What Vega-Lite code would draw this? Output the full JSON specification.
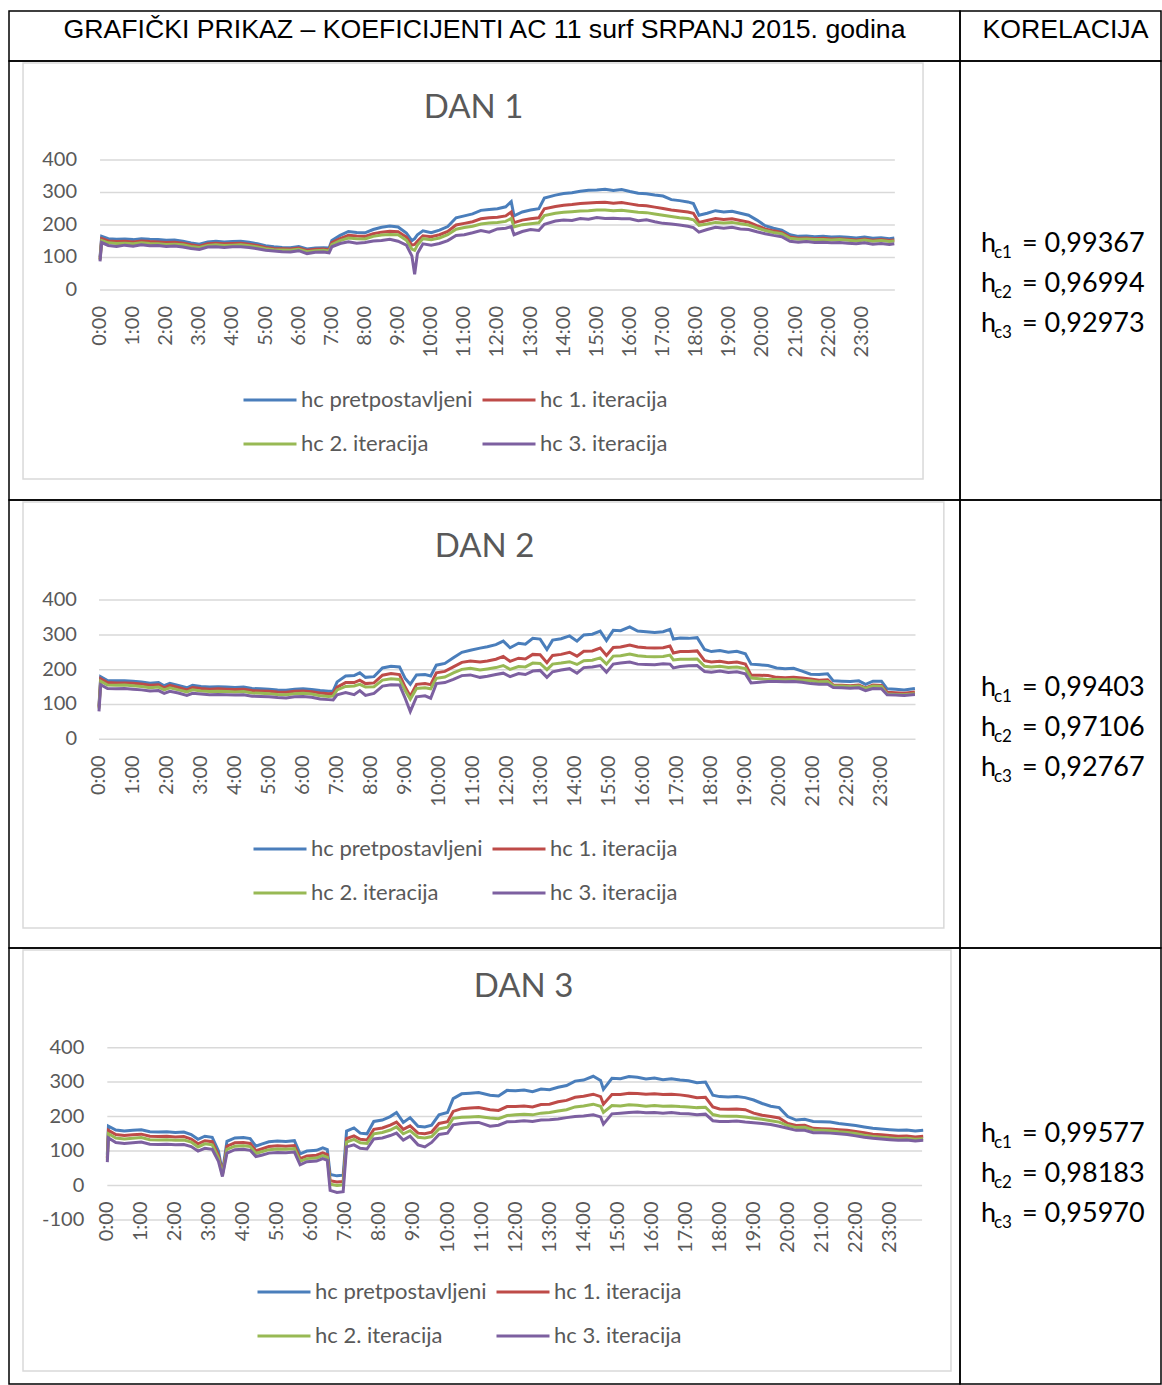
{
"$schema":"https://vega.github.io/schema/vega-lite/v6.json",
"background":"white",
"padding":{"left":8,"top":10,"right":0,"bottom":0},
"config":{"view":{"stroke":"black","strokeWidth":1.5}},
"datasets":{
"g5":[{"g":0},{"g":100},{"g":200},{"g":300},{"g":400}],
"g6":[{"g":-100},{"g":0},{"g":100},{"g":200},{"g":300},{"g":400}],
"hours":[{"m":0,"t":"0:00"},{"m":60,"t":"1:00"},{"m":120,"t":"2:00"},{"m":180,"t":"3:00"},{"m":240,"t":"4:00"},{"m":300,"t":"5:00"},{"m":360,"t":"6:00"},{"m":420,"t":"7:00"},{"m":480,"t":"8:00"},{"m":540,"t":"9:00"},{"m":600,"t":"10:00"},{"m":660,"t":"11:00"},{"m":720,"t":"12:00"},{"m":780,"t":"13:00"},{"m":840,"t":"14:00"},{"m":900,"t":"15:00"},{"m":960,"t":"16:00"},{"m":1020,"t":"17:00"},{"m":1080,"t":"18:00"},{"m":1140,"t":"19:00"},{"m":1200,"t":"20:00"},{"m":1260,"t":"21:00"},{"m":1320,"t":"22:00"},{"m":1380,"t":"23:00"}],
"hc":[
{"d":1,"m":0,"p":100,"a":95,"b":92,"c":88},{"d":1,"m":3,"p":165,"a":158,"b":152,"c":146},{"d":1,"m":15,"p":158,"a":151,"b":145,"c":137},{"d":1,"m":30,"p":156,"a":149,"b":143,"c":134},{"d":1,"m":45,"p":157,"a":150,"b":144,"c":138},{"d":1,"m":60,"p":155,"a":148,"b":142,"c":135},{"d":1,"m":75,"p":158,"a":151,"b":145,"c":139},{"d":1,"m":90,"p":156,"a":149,"b":143,"c":136},{"d":1,"m":105,"p":155,"a":148,"b":142,"c":137},{"d":1,"m":120,"p":153,"a":146,"b":140,"c":134},{"d":1,"m":135,"p":154,"a":147,"b":141,"c":135},{"d":1,"m":150,"p":150,"a":144,"b":139,"c":132},{"d":1,"m":165,"p":145,"a":139,"b":134,"c":128},{"d":1,"m":180,"p":141,"a":135,"b":131,"c":125},{"d":1,"m":195,"p":148,"a":142,"b":137,"c":132},{"d":1,"m":210,"p":150,"a":144,"b":139,"c":133},{"d":1,"m":225,"p":148,"a":142,"b":137,"c":131},{"d":1,"m":240,"p":149,"a":143,"b":138,"c":133},{"d":1,"m":255,"p":150,"a":144,"b":139,"c":133},{"d":1,"m":270,"p":147,"a":141,"b":136,"c":131},{"d":1,"m":285,"p":142,"a":137,"b":132,"c":127},{"d":1,"m":300,"p":136,"a":131,"b":127,"c":122},{"d":1,"m":315,"p":133,"a":128,"b":124,"c":120},{"d":1,"m":330,"p":131,"a":127,"b":123,"c":118},{"d":1,"m":345,"p":130,"a":126,"b":122,"c":117},{"d":1,"m":360,"p":134,"a":129,"b":125,"c":121},{"d":1,"m":375,"p":126,"a":122,"b":118,"c":112},{"d":1,"m":390,"p":129,"a":125,"b":121,"c":116},{"d":1,"m":405,"p":130,"a":126,"b":122,"c":117},{"d":1,"m":415,"p":129,"a":124,"b":120,"c":114},{"d":1,"m":420,"p":152,"a":146,"b":140,"c":133},{"d":1,"m":435,"p":168,"a":158,"b":152,"c":143},{"d":1,"m":450,"p":180,"a":168,"b":160,"c":148},{"d":1,"m":465,"p":177,"a":166,"b":158,"c":144},{"d":1,"m":480,"p":176,"a":165,"b":157,"c":146},{"d":1,"m":495,"p":186,"a":173,"b":165,"c":151},{"d":1,"m":510,"p":193,"a":178,"b":169,"c":152},{"d":1,"m":525,"p":197,"a":181,"b":171,"c":156},{"d":1,"m":540,"p":194,"a":179,"b":170,"c":150},{"d":1,"m":555,"p":175,"a":163,"b":153,"c":138},{"d":1,"m":565,"p":152,"a":138,"b":126,"c":105},{"d":1,"m":570,"p":158,"a":140,"b":122,"c":48},{"d":1,"m":575,"p":170,"a":150,"b":138,"c":112},{"d":1,"m":585,"p":182,"a":167,"b":158,"c":142},{"d":1,"m":600,"p":176,"a":164,"b":155,"c":138},{"d":1,"m":615,"p":184,"a":170,"b":160,"c":143},{"d":1,"m":630,"p":195,"a":180,"b":170,"c":152},{"d":1,"m":645,"p":222,"a":200,"b":187,"c":168},{"d":1,"m":660,"p":228,"a":205,"b":192,"c":170},{"d":1,"m":675,"p":234,"a":210,"b":196,"c":176},{"d":1,"m":690,"p":245,"a":219,"b":203,"c":183},{"d":1,"m":705,"p":248,"a":222,"b":206,"c":178},{"d":1,"m":720,"p":250,"a":224,"b":208,"c":188},{"d":1,"m":735,"p":256,"a":228,"b":211,"c":190},{"d":1,"m":745,"p":272,"a":240,"b":220,"c":195},{"d":1,"m":750,"p":228,"a":207,"b":194,"c":170},{"d":1,"m":765,"p":240,"a":215,"b":201,"c":180},{"d":1,"m":780,"p":246,"a":219,"b":204,"c":186},{"d":1,"m":795,"p":250,"a":222,"b":207,"c":183},{"d":1,"m":805,"p":283,"a":250,"b":229,"c":202},{"d":1,"m":825,"p":292,"a":257,"b":236,"c":212},{"d":1,"m":840,"p":297,"a":261,"b":239,"c":215},{"d":1,"m":855,"p":299,"a":263,"b":241,"c":214},{"d":1,"m":870,"p":304,"a":266,"b":243,"c":220},{"d":1,"m":885,"p":307,"a":268,"b":244,"c":218},{"d":1,"m":900,"p":308,"a":269,"b":246,"c":223},{"d":1,"m":915,"p":310,"a":270,"b":246,"c":220},{"d":1,"m":930,"p":306,"a":267,"b":244,"c":221},{"d":1,"m":945,"p":309,"a":269,"b":245,"c":219},{"d":1,"m":960,"p":303,"a":265,"b":242,"c":219},{"d":1,"m":975,"p":298,"a":261,"b":239,"c":213},{"d":1,"m":990,"p":296,"a":259,"b":238,"c":216},{"d":1,"m":1005,"p":292,"a":255,"b":234,"c":210},{"d":1,"m":1020,"p":289,"a":251,"b":230,"c":205},{"d":1,"m":1035,"p":278,"a":246,"b":226,"c":203},{"d":1,"m":1050,"p":275,"a":243,"b":222,"c":200},{"d":1,"m":1065,"p":271,"a":240,"b":220,"c":196},{"d":1,"m":1075,"p":266,"a":236,"b":216,"c":192},{"d":1,"m":1085,"p":230,"a":208,"b":199,"c":178},{"d":1,"m":1100,"p":236,"a":214,"b":203,"c":186},{"d":1,"m":1115,"p":244,"a":220,"b":208,"c":193},{"d":1,"m":1130,"p":240,"a":217,"b":206,"c":190},{"d":1,"m":1145,"p":242,"a":219,"b":208,"c":193},{"d":1,"m":1160,"p":236,"a":214,"b":204,"c":188},{"d":1,"m":1175,"p":230,"a":209,"b":200,"c":186},{"d":1,"m":1190,"p":215,"a":198,"b":191,"c":179},{"d":1,"m":1205,"p":198,"a":188,"b":183,"c":173},{"d":1,"m":1220,"p":190,"a":182,"b":177,"c":168},{"d":1,"m":1235,"p":184,"a":177,"b":173,"c":164},{"d":1,"m":1250,"p":170,"a":163,"b":159,"c":150},{"d":1,"m":1265,"p":165,"a":159,"b":156,"c":147},{"d":1,"m":1280,"p":166,"a":160,"b":157,"c":149},{"d":1,"m":1295,"p":164,"a":158,"b":155,"c":146},{"d":1,"m":1310,"p":165,"a":159,"b":155,"c":147},{"d":1,"m":1325,"p":163,"a":157,"b":154,"c":145},{"d":1,"m":1340,"p":164,"a":158,"b":155,"c":146},{"d":1,"m":1355,"p":162,"a":156,"b":153,"c":144},{"d":1,"m":1370,"p":160,"a":154,"b":151,"c":142},{"d":1,"m":1385,"p":163,"a":157,"b":154,"c":145},{"d":1,"m":1400,"p":159,"a":153,"b":150,"c":141},{"d":1,"m":1415,"p":161,"a":155,"b":152,"c":143},{"d":1,"m":1430,"p":158,"a":152,"b":149,"c":140},{"d":1,"m":1439,"p":160,"a":154,"b":151,"c":142},
{"d":2,"m":0,"p":96,"a":92,"b":88,"c":80},{"d":2,"m":3,"p":180,"a":174,"b":167,"c":157},{"d":2,"m":15,"p":169,"a":163,"b":156,"c":146},{"d":2,"m":30,"p":168,"a":162,"b":155,"c":145},{"d":2,"m":45,"p":168,"a":162,"b":156,"c":146},{"d":2,"m":60,"p":167,"a":161,"b":154,"c":144},{"d":2,"m":75,"p":165,"a":159,"b":152,"c":142},{"d":2,"m":90,"p":161,"a":155,"b":148,"c":139},{"d":2,"m":105,"p":163,"a":157,"b":150,"c":140},{"d":2,"m":115,"p":154,"a":148,"b":142,"c":132},{"d":2,"m":125,"p":161,"a":155,"b":148,"c":138},{"d":2,"m":140,"p":155,"a":149,"b":142,"c":133},{"d":2,"m":155,"p":148,"a":142,"b":136,"c":126},{"d":2,"m":165,"p":155,"a":149,"b":142,"c":132},{"d":2,"m":180,"p":152,"a":146,"b":139,"c":130},{"d":2,"m":195,"p":150,"a":144,"b":137,"c":128},{"d":2,"m":210,"p":151,"a":145,"b":138,"c":129},{"d":2,"m":225,"p":150,"a":144,"b":137,"c":128},{"d":2,"m":240,"p":149,"a":143,"b":136,"c":127},{"d":2,"m":255,"p":150,"a":144,"b":137,"c":128},{"d":2,"m":270,"p":146,"a":140,"b":133,"c":124},{"d":2,"m":285,"p":145,"a":139,"b":132,"c":123},{"d":2,"m":300,"p":144,"a":138,"b":131,"c":122},{"d":2,"m":315,"p":142,"a":136,"b":129,"c":120},{"d":2,"m":330,"p":141,"a":135,"b":128,"c":119},{"d":2,"m":345,"p":144,"a":138,"b":131,"c":122},{"d":2,"m":360,"p":145,"a":139,"b":132,"c":123},{"d":2,"m":375,"p":143,"a":137,"b":130,"c":121},{"d":2,"m":390,"p":140,"a":133,"b":125,"c":116},{"d":2,"m":405,"p":138,"a":131,"b":123,"c":114},{"d":2,"m":413,"p":139,"a":132,"b":124,"c":113},{"d":2,"m":420,"p":165,"a":150,"b":142,"c":128},{"d":2,"m":435,"p":182,"a":163,"b":152,"c":134},{"d":2,"m":450,"p":183,"a":163,"b":153,"c":128},{"d":2,"m":460,"p":191,"a":170,"b":158,"c":140},{"d":2,"m":470,"p":178,"a":160,"b":150,"c":126},{"d":2,"m":485,"p":180,"a":162,"b":151,"c":132},{"d":2,"m":500,"p":205,"a":184,"b":170,"c":153},{"d":2,"m":515,"p":210,"a":189,"b":174,"c":157},{"d":2,"m":530,"p":208,"a":186,"b":172,"c":156},{"d":2,"m":540,"p":175,"a":150,"b":140,"c":118},{"d":2,"m":549,"p":158,"a":124,"b":115,"c":80},{"d":2,"m":560,"p":185,"a":158,"b":146,"c":122},{"d":2,"m":575,"p":186,"a":160,"b":148,"c":125},{"d":2,"m":585,"p":182,"a":157,"b":145,"c":118},{"d":2,"m":595,"p":213,"a":191,"b":175,"c":160},{"d":2,"m":610,"p":218,"a":195,"b":179,"c":163},{"d":2,"m":625,"p":234,"a":208,"b":191,"c":172},{"d":2,"m":640,"p":250,"a":221,"b":201,"c":183},{"d":2,"m":655,"p":256,"a":225,"b":204,"c":185},{"d":2,"m":672,"p":262,"a":222,"b":199,"c":178},{"d":2,"m":685,"p":266,"a":225,"b":202,"c":181},{"d":2,"m":700,"p":272,"a":230,"b":206,"c":186},{"d":2,"m":713,"p":282,"a":238,"b":212,"c":190},{"d":2,"m":725,"p":263,"a":224,"b":201,"c":180},{"d":2,"m":740,"p":276,"a":233,"b":209,"c":189},{"d":2,"m":752,"p":273,"a":231,"b":208,"c":186},{"d":2,"m":765,"p":290,"a":244,"b":219,"c":196},{"d":2,"m":778,"p":288,"a":243,"b":218,"c":198},{"d":2,"m":790,"p":258,"a":220,"b":200,"c":178},{"d":2,"m":800,"p":285,"a":241,"b":216,"c":194},{"d":2,"m":815,"p":289,"a":244,"b":219,"c":199},{"d":2,"m":830,"p":297,"a":250,"b":223,"c":203},{"d":2,"m":843,"p":282,"a":239,"b":215,"c":190},{"d":2,"m":855,"p":300,"a":253,"b":226,"c":206},{"d":2,"m":870,"p":302,"a":254,"b":227,"c":208},{"d":2,"m":884,"p":311,"a":262,"b":234,"c":212},{"d":2,"m":895,"p":284,"a":241,"b":216,"c":193},{"d":2,"m":907,"p":313,"a":264,"b":239,"c":216},{"d":2,"m":920,"p":312,"a":265,"b":240,"c":219},{"d":2,"m":936,"p":323,"a":271,"b":245,"c":222},{"d":2,"m":950,"p":311,"a":265,"b":240,"c":216},{"d":2,"m":965,"p":309,"a":263,"b":238,"c":215},{"d":2,"m":980,"p":307,"a":262,"b":237,"c":214},{"d":2,"m":995,"p":309,"a":263,"b":238,"c":217},{"d":2,"m":1007,"p":316,"a":268,"b":242,"c":216},{"d":2,"m":1013,"p":288,"a":248,"b":228,"c":205},{"d":2,"m":1025,"p":291,"a":252,"b":230,"c":209},{"d":2,"m":1040,"p":290,"a":252,"b":230,"c":211},{"d":2,"m":1055,"p":292,"a":254,"b":231,"c":212},{"d":2,"m":1068,"p":258,"a":226,"b":210,"c":195},{"d":2,"m":1080,"p":252,"a":222,"b":208,"c":193},{"d":2,"m":1095,"p":255,"a":224,"b":210,"c":196},{"d":2,"m":1110,"p":250,"a":220,"b":206,"c":192},{"d":2,"m":1125,"p":253,"a":222,"b":208,"c":194},{"d":2,"m":1140,"p":246,"a":216,"b":203,"c":188},{"d":2,"m":1150,"p":216,"a":184,"b":176,"c":162},{"d":2,"m":1165,"p":214,"a":184,"b":174,"c":164},{"d":2,"m":1180,"p":212,"a":183,"b":172,"c":166},{"d":2,"m":1195,"p":205,"a":178,"b":172,"c":166},{"d":2,"m":1210,"p":203,"a":177,"b":171,"c":165},{"d":2,"m":1225,"p":204,"a":178,"b":172,"c":166},{"d":2,"m":1240,"p":196,"a":176,"b":170,"c":164},{"d":2,"m":1255,"p":187,"a":173,"b":168,"c":160},{"d":2,"m":1270,"p":186,"a":170,"b":165,"c":158},{"d":2,"m":1285,"p":188,"a":171,"b":166,"c":158},{"d":2,"m":1295,"p":168,"a":156,"b":154,"c":149},{"d":2,"m":1310,"p":167,"a":155,"b":153,"c":148},{"d":2,"m":1325,"p":166,"a":154,"b":152,"c":147},{"d":2,"m":1340,"p":168,"a":156,"b":153,"c":148},{"d":2,"m":1352,"p":158,"a":148,"b":146,"c":140},{"d":2,"m":1365,"p":167,"a":156,"b":153,"c":146},{"d":2,"m":1380,"p":167,"a":155,"b":152,"c":145},{"d":2,"m":1390,"p":145,"a":135,"b":130,"c":128},{"d":2,"m":1405,"p":144,"a":134,"b":129,"c":127},{"d":2,"m":1420,"p":142,"a":132,"b":128,"c":126},{"d":2,"m":1439,"p":146,"a":136,"b":131,"c":129},
{"d":3,"m":0,"p":90,"a":80,"b":75,"c":68},{"d":3,"m":2,"p":172,"a":160,"b":150,"c":138},{"d":3,"m":15,"p":161,"a":148,"b":138,"c":125},{"d":3,"m":30,"p":158,"a":145,"b":135,"c":122},{"d":3,"m":45,"p":160,"a":147,"b":137,"c":124},{"d":3,"m":60,"p":162,"a":149,"b":139,"c":126},{"d":3,"m":75,"p":156,"a":143,"b":133,"c":120},{"d":3,"m":90,"p":155,"a":142,"b":132,"c":119},{"d":3,"m":105,"p":156,"a":143,"b":133,"c":120},{"d":3,"m":120,"p":154,"a":141,"b":131,"c":118},{"d":3,"m":135,"p":155,"a":142,"b":132,"c":119},{"d":3,"m":148,"p":148,"a":135,"b":126,"c":113},{"d":3,"m":160,"p":134,"a":121,"b":112,"c":100},{"d":3,"m":172,"p":143,"a":130,"b":121,"c":108},{"d":3,"m":185,"p":140,"a":127,"b":118,"c":105},{"d":3,"m":196,"p":100,"a":88,"b":80,"c":70},{"d":3,"m":203,"p":38,"a":33,"b":30,"c":26},{"d":3,"m":211,"p":128,"a":114,"b":105,"c":94},{"d":3,"m":225,"p":138,"a":124,"b":114,"c":104},{"d":3,"m":240,"p":139,"a":125,"b":115,"c":105},{"d":3,"m":252,"p":136,"a":122,"b":113,"c":102},{"d":3,"m":262,"p":114,"a":101,"b":93,"c":84},{"d":3,"m":272,"p":120,"a":106,"b":98,"c":88},{"d":3,"m":285,"p":127,"a":113,"b":104,"c":94},{"d":3,"m":300,"p":129,"a":115,"b":106,"c":96},{"d":3,"m":315,"p":128,"a":114,"b":105,"c":95},{"d":3,"m":330,"p":130,"a":116,"b":107,"c":97},{"d":3,"m":340,"p":92,"a":78,"b":70,"c":60},{"d":3,"m":352,"p":100,"a":86,"b":78,"c":69},{"d":3,"m":369,"p":102,"a":88,"b":80,"c":71},{"d":3,"m":380,"p":109,"a":95,"b":87,"c":78},{"d":3,"m":388,"p":104,"a":90,"b":82,"c":73},{"d":3,"m":393,"p":32,"a":14,"b":4,"c":-14},{"d":3,"m":405,"p":28,"a":10,"b":0,"c":-20},{"d":3,"m":416,"p":30,"a":12,"b":2,"c":-18},{"d":3,"m":422,"p":158,"a":136,"b":126,"c":112},{"d":3,"m":435,"p":167,"a":144,"b":134,"c":118},{"d":3,"m":446,"p":152,"a":134,"b":124,"c":108},{"d":3,"m":458,"p":150,"a":132,"b":122,"c":106},{"d":3,"m":470,"p":186,"a":163,"b":150,"c":135},{"d":3,"m":485,"p":190,"a":167,"b":154,"c":138},{"d":3,"m":499,"p":200,"a":175,"b":161,"c":145},{"d":3,"m":510,"p":212,"a":184,"b":170,"c":152},{"d":3,"m":522,"p":183,"a":163,"b":150,"c":132},{"d":3,"m":534,"p":197,"a":173,"b":159,"c":143},{"d":3,"m":548,"p":172,"a":152,"b":140,"c":118},{"d":3,"m":560,"p":170,"a":150,"b":138,"c":112},{"d":3,"m":572,"p":175,"a":155,"b":142,"c":125},{"d":3,"m":585,"p":205,"a":180,"b":164,"c":148},{"d":3,"m":600,"p":212,"a":185,"b":169,"c":152},{"d":3,"m":610,"p":252,"a":215,"b":195,"c":176},{"d":3,"m":625,"p":266,"a":223,"b":198,"c":180},{"d":3,"m":640,"p":268,"a":225,"b":199,"c":182},{"d":3,"m":655,"p":270,"a":226,"b":200,"c":183},{"d":3,"m":675,"p":262,"a":220,"b":196,"c":172},{"d":3,"m":690,"p":260,"a":218,"b":194,"c":175},{"d":3,"m":705,"p":276,"a":229,"b":203,"c":185},{"d":3,"m":720,"p":275,"a":229,"b":205,"c":186},{"d":3,"m":735,"p":277,"a":231,"b":207,"c":188},{"d":3,"m":750,"p":272,"a":228,"b":205,"c":186},{"d":3,"m":765,"p":280,"a":235,"b":210,"c":190},{"d":3,"m":780,"p":278,"a":236,"b":212,"c":191},{"d":3,"m":795,"p":285,"a":243,"b":216,"c":193},{"d":3,"m":810,"p":290,"a":247,"b":220,"c":197},{"d":3,"m":825,"p":303,"a":256,"b":228,"c":200},{"d":3,"m":840,"p":306,"a":259,"b":231,"c":202},{"d":3,"m":857,"p":317,"a":265,"b":236,"c":205},{"d":3,"m":870,"p":305,"a":258,"b":230,"c":199},{"d":3,"m":875,"p":279,"a":236,"b":212,"c":178},{"d":3,"m":890,"p":311,"a":264,"b":232,"c":208},{"d":3,"m":905,"p":310,"a":264,"b":231,"c":210},{"d":3,"m":920,"p":316,"a":268,"b":234,"c":212},{"d":3,"m":935,"p":314,"a":267,"b":233,"c":213},{"d":3,"m":950,"p":309,"a":265,"b":230,"c":211},{"d":3,"m":965,"p":312,"a":266,"b":232,"c":212},{"d":3,"m":980,"p":307,"a":264,"b":230,"c":210},{"d":3,"m":995,"p":310,"a":265,"b":231,"c":212},{"d":3,"m":1010,"p":306,"a":263,"b":229,"c":209},{"d":3,"m":1025,"p":304,"a":260,"b":228,"c":208},{"d":3,"m":1040,"p":298,"a":255,"b":226,"c":205},{"d":3,"m":1055,"p":300,"a":256,"b":227,"c":207},{"d":3,"m":1068,"p":262,"a":228,"b":206,"c":188},{"d":3,"m":1080,"p":258,"a":222,"b":202,"c":186},{"d":3,"m":1095,"p":257,"a":221,"b":201,"c":186},{"d":3,"m":1110,"p":258,"a":222,"b":201,"c":187},{"d":3,"m":1125,"p":255,"a":220,"b":199,"c":184},{"d":3,"m":1140,"p":248,"a":210,"b":195,"c":182},{"d":3,"m":1155,"p":238,"a":204,"b":192,"c":180},{"d":3,"m":1170,"p":230,"a":200,"b":188,"c":177},{"d":3,"m":1185,"p":226,"a":196,"b":184,"c":172},{"d":3,"m":1200,"p":200,"a":180,"b":174,"c":166},{"d":3,"m":1215,"p":190,"a":174,"b":168,"c":160},{"d":3,"m":1230,"p":192,"a":175,"b":169,"c":160},{"d":3,"m":1245,"p":186,"a":166,"b":161,"c":153},{"d":3,"m":1260,"p":185,"a":165,"b":160,"c":153},{"d":3,"m":1275,"p":184,"a":164,"b":159,"c":152},{"d":3,"m":1290,"p":180,"a":162,"b":156,"c":150},{"d":3,"m":1305,"p":177,"a":160,"b":154,"c":148},{"d":3,"m":1320,"p":174,"a":157,"b":151,"c":144},{"d":3,"m":1335,"p":170,"a":153,"b":146,"c":140},{"d":3,"m":1350,"p":166,"a":149,"b":142,"c":137},{"d":3,"m":1365,"p":164,"a":147,"b":140,"c":135},{"d":3,"m":1380,"p":162,"a":145,"b":138,"c":133},{"d":3,"m":1395,"p":160,"a":143,"b":136,"c":131},{"d":3,"m":1410,"p":161,"a":144,"b":137,"c":132},{"d":3,"m":1425,"p":158,"a":141,"b":134,"c":129},{"d":3,"m":1439,"p":160,"a":143,"b":136,"c":131}
]},
"columns":2,
"spacing":0,
"align":"each",
"bounds":"flush",
"resolve":{"scale":{"color":"independent"},"legend":{"color":"independent"}},
"concat":[
 {"width":951,"height":50,"data":{"values":[{"t":"GRAFIČKI PRIKAZ – KOEFICIJENTI AC 11 surf SRPANJ 2015. godina"}]},"mark":{"type":"text","font":"Liberation Sans","fontSize":26.67,"baseline":"alphabetic","dy":2,"color":"black"},
  "encoding":{"text":{"field":"t"},"x":{"datum":0,"type":"quantitative","scale":{"domain":[-1,1]},"axis":null},"y":{"datum":0,"type":"quantitative","scale":{"domain":[-1,1]},"axis":null}}},
 {"width":201,"height":50,"data":{"values":[{"t":"KORELACIJA"}]},"mark":{"type":"text","font":"Liberation Sans","fontSize":26.67,"baseline":"alphabetic","dy":2,"dx":5,"color":"black"},
  "encoding":{"text":{"field":"t"},"x":{"datum":0,"type":"quantitative","scale":{"domain":[-1,1]},"axis":null},"y":{"datum":0,"type":"quantitative","scale":{"domain":[-1,1]},"axis":null}}},
 {"width":951,"height":439,
  "title":{"text":"DAN 1","offset":-90,"baseline":"alphabetic","fontSize":33,"font":"Lato","fontWeight":"normal","color":"#595959","dx":-11,"anchor":"middle"},
  "layer":[
   {"data":{"values":[{"f":1}]},"mark":{"type":"rect","filled":false,"stroke":"#d9d9d9","strokeWidth":1.5},
    "encoding":{"x":{"datum":-139.5,"type":"quantitative","scale":{"domain":[-164.9,1558],"nice":false,"zero":false},"axis":null},"x2":{"datum":1491},
     "y":{"datum":698.5,"type":"quantitative","scale":{"domain":[-646.2,704.6],"nice":false,"zero":false},"axis":null},"y2":{"datum":-581.5}}},
   {"data":{"name":"g5"},"mark":{"type":"rule","color":"#d9d9d9","strokeWidth":1.5},
    "encoding":{"y":{"field":"g","type":"quantitative","scale":{"domain":[-646.2,704.6],"nice":false,"zero":false},"axis":null},
     "x":{"datum":0,"type":"quantitative","scale":{"domain":[-164.9,1558],"nice":false,"zero":false},"axis":null},"x2":{"datum":1440}}},
   {"data":{"name":"g5"},"mark":{"type":"text","align":"right","baseline":"middle","dx":-23,"font":"Lato","fontSize":20,"color":"#595959"},
    "encoding":{"y":{"field":"g","type":"quantitative","scale":{"domain":[-646.2,704.6],"nice":false,"zero":false},"axis":null},
     "x":{"datum":0,"type":"quantitative","scale":{"domain":[-164.9,1558],"nice":false,"zero":false},"axis":null},"text":{"field":"g","type":"nominal"}}},
   {"data":{"name":"hours"},"mark":{"type":"text","angle":270,"align":"right","baseline":"middle","dx":-16,"font":"Lato","fontSize":20,"color":"#595959"},
    "encoding":{"x":{"field":"m","type":"quantitative","scale":{"domain":[-164.9,1558],"nice":false,"zero":false},"axis":null},
     "y":{"datum":0,"type":"quantitative","scale":{"domain":[-646.2,704.6],"nice":false,"zero":false},"axis":null},"text":{"field":"t","type":"nominal"}}},
   {"data":{"name":"hc"},"transform":[{"filter":"datum.d == 1"},{"fold":["p","a","b","c"],"as":["s","val"]}],
    "mark":{"type":"line","strokeWidth":3},
    "encoding":{
     "x":{"field":"m","type":"quantitative","scale":{"domain":[-164.9,1558],"nice":false,"zero":false},"axis":null},
     "y":{"field":"val","type":"quantitative","scale":{"domain":[-646.2,704.6],"nice":false,"zero":false},"axis":null},
     "color":{"field":"s","type":"nominal","scale":{"domain":["p","a","b","c"],"range":["#4a7ebb","#be4b48","#98b954","#7d60a0"]},
      "legend":{"orient":"none","legendX":233,"legendY":311,"direction":"horizontal","columns":2,"title":null,"symbolType":"stroke","symbolSize":2809,"symbolStrokeWidth":3,"labelFont":"Lato","labelFontSize":22,"labelColor":"#595959","labelOffset":3,"columnPadding":3,"rowPadding":5,"labelLimit":400,
       "labelExpr":"datum.label == 'p' ? 'hc pretpostavljeni' : datum.label == 'a' ? 'hc 1. iteracija' : datum.label == 'b' ? 'hc 2. iteracija' : 'hc 3. iteracija'"}}}}
  ]},
 {"width":201,"height":439,"data":{"values":[{"k":1,"s":"c1","v":"= 0,99367"},{"k":2,"s":"c2","v":"= 0,96994"},{"k":3,"s":"c3","v":"= 0,92973"}]},
  "encoding":{"y":{"field":"k","type":"quantitative","scale":{"domain":[-3.775,7.2],"reverse":true,"nice":false,"zero":false},"axis":null}},
  "layer":[
   {"mark":{"type":"text","text":"h","align":"left","baseline":"alphabetic","dx":-79.5,"font":"Lato","fontSize":27,"color":"black"}},
   {"mark":{"type":"text","align":"left","baseline":"alphabetic","dx":-66.5,"dy":6,"font":"Lato","fontSize":17,"color":"black"},"encoding":{"text":{"field":"s"}}},
   {"mark":{"type":"text","align":"left","baseline":"alphabetic","dx":-38.5,"font":"Lato","fontSize":27,"color":"black"},"encoding":{"text":{"field":"v"}}}
  ]},
 {"width":951,"height":448,
  "title":{"text":"DAN 2","offset":-90,"baseline":"alphabetic","fontSize":33,"font":"Lato","fontWeight":"normal","color":"#595959","dx":0,"anchor":"middle"},
  "layer":[
   {"data":{"values":[{"f":1}]},"mark":{"type":"rect","filled":false,"stroke":"#d9d9d9","strokeWidth":1.5},
    "encoding":{"x":{"datum":-134,"type":"quantitative","scale":{"domain":[-158.7,1518.5],"nice":false,"zero":false},"axis":null},"x2":{"datum":1490},
     "y":{"datum":682,"type":"quantitative","scale":{"domain":[-599.7,687.6],"nice":false,"zero":false},"axis":null},"y2":{"datum":-542}}},
   {"data":{"name":"g5"},"mark":{"type":"rule","color":"#d9d9d9","strokeWidth":1.5},
    "encoding":{"y":{"field":"g","type":"quantitative","scale":{"domain":[-599.7,687.6],"nice":false,"zero":false},"axis":null},
     "x":{"datum":0,"type":"quantitative","scale":{"domain":[-158.7,1518.5],"nice":false,"zero":false},"axis":null},"x2":{"datum":1440}}},
   {"data":{"name":"g5"},"mark":{"type":"text","align":"right","baseline":"middle","dx":-22,"font":"Lato","fontSize":20,"color":"#595959"},
    "encoding":{"y":{"field":"g","type":"quantitative","scale":{"domain":[-599.7,687.6],"nice":false,"zero":false},"axis":null},
     "x":{"datum":0,"type":"quantitative","scale":{"domain":[-158.7,1518.5],"nice":false,"zero":false},"axis":null},"text":{"field":"g","type":"nominal"}}},
   {"data":{"name":"hours"},"mark":{"type":"text","angle":270,"align":"right","baseline":"middle","dx":-16,"font":"Lato","fontSize":20,"color":"#595959"},
    "encoding":{"x":{"field":"m","type":"quantitative","scale":{"domain":[-158.7,1518.5],"nice":false,"zero":false},"axis":null},
     "y":{"datum":0,"type":"quantitative","scale":{"domain":[-599.7,687.6],"nice":false,"zero":false},"axis":null},"text":{"field":"t","type":"nominal"}}},
   {"data":{"name":"hc"},"transform":[{"filter":"datum.d == 2"},{"fold":["p","a","b","c"],"as":["s","val"]}],
    "mark":{"type":"line","strokeWidth":3},
    "encoding":{
     "x":{"field":"m","type":"quantitative","scale":{"domain":[-158.7,1518.5],"nice":false,"zero":false},"axis":null},
     "y":{"field":"val","type":"quantitative","scale":{"domain":[-599.7,687.6],"nice":false,"zero":false},"axis":null},
     "color":{"field":"s","type":"nominal","scale":{"domain":["p","a","b","c"],"range":["#4a7ebb","#be4b48","#98b954","#7d60a0"]},
      "legend":{"orient":"none","legendX":243,"legendY":321,"direction":"horizontal","columns":2,"title":null,"symbolType":"stroke","symbolSize":2809,"symbolStrokeWidth":3,"labelFont":"Lato","labelFontSize":22,"labelColor":"#595959","labelOffset":3,"columnPadding":3,"rowPadding":5,"labelLimit":400,
       "labelExpr":"datum.label == 'p' ? 'hc pretpostavljeni' : datum.label == 'a' ? 'hc 1. iteracija' : datum.label == 'b' ? 'hc 2. iteracija' : 'hc 3. iteracija'"}}}}
  ]},
 {"width":201,"height":448,"data":{"values":[{"k":1,"s":"c1","v":"= 0,99403"},{"k":2,"s":"c2","v":"= 0,97106"},{"k":3,"s":"c3","v":"= 0,92767"}]},
  "encoding":{"y":{"field":"k","type":"quantitative","scale":{"domain":[-3.9,7.3],"reverse":true,"nice":false,"zero":false},"axis":null}},
  "layer":[
   {"mark":{"type":"text","text":"h","align":"left","baseline":"alphabetic","dx":-79.5,"font":"Lato","fontSize":27,"color":"black"}},
   {"mark":{"type":"text","align":"left","baseline":"alphabetic","dx":-66.5,"dy":6,"font":"Lato","fontSize":17,"color":"black"},"encoding":{"text":{"field":"s"}}},
   {"mark":{"type":"text","align":"left","baseline":"alphabetic","dx":-38.5,"font":"Lato","fontSize":27,"color":"black"},"encoding":{"text":{"field":"v"}}}
  ]},
 {"width":951,"height":436,
  "title":{"text":"DAN 3","offset":-82,"baseline":"alphabetic","fontSize":33,"font":"Lato","fontWeight":"normal","color":"#595959","dx":39,"anchor":"middle"},
  "layer":[
   {"data":{"values":[{"f":1}]},"mark":{"type":"rect","filled":false,"stroke":"#d9d9d9","strokeWidth":1.5},
    "encoding":{"x":{"datum":-148.7,"type":"quantitative","scale":{"domain":[-173.4,1503.9],"nice":false,"zero":false},"axis":null},"x2":{"datum":1488},
     "y":{"datum":683.4,"type":"quantitative","scale":{"domain":[-576,689.2],"nice":false,"zero":false},"axis":null},"y2":{"datum":-538}}},
   {"data":{"name":"g6"},"mark":{"type":"rule","color":"#d9d9d9","strokeWidth":1.5},
    "encoding":{"y":{"field":"g","type":"quantitative","scale":{"domain":[-576,689.2],"nice":false,"zero":false},"axis":null},
     "x":{"datum":0,"type":"quantitative","scale":{"domain":[-173.4,1503.9],"nice":false,"zero":false},"axis":null},"x2":{"datum":1437}}},
   {"data":{"name":"g6"},"mark":{"type":"text","align":"right","baseline":"middle","dx":-23,"font":"Lato","fontSize":20,"color":"#595959"},
    "encoding":{"y":{"field":"g","type":"quantitative","scale":{"domain":[-576,689.2],"nice":false,"zero":false},"axis":null},
     "x":{"datum":0,"type":"quantitative","scale":{"domain":[-173.4,1503.9],"nice":false,"zero":false},"axis":null},"text":{"field":"g","type":"nominal"}}},
   {"data":{"name":"hours"},"mark":{"type":"text","angle":270,"align":"right","baseline":"middle","dx":-16,"font":"Lato","fontSize":20,"color":"#595959"},
    "encoding":{"x":{"field":"m","type":"quantitative","scale":{"domain":[-173.4,1503.9],"nice":false,"zero":false},"axis":null},
     "y":{"datum":0,"type":"quantitative","scale":{"domain":[-576,689.2],"nice":false,"zero":false},"axis":null},"text":{"field":"t","type":"nominal"}}},
   {"data":{"name":"hc"},"transform":[{"filter":"datum.d == 3"},{"fold":["p","a","b","c"],"as":["s","val"]}],
    "mark":{"type":"line","strokeWidth":3},
    "encoding":{
     "x":{"field":"m","type":"quantitative","scale":{"domain":[-173.4,1503.9],"nice":false,"zero":false},"axis":null},
     "y":{"field":"val","type":"quantitative","scale":{"domain":[-576,689.2],"nice":false,"zero":false},"axis":null},
     "color":{"field":"s","type":"nominal","scale":{"domain":["p","a","b","c"],"range":["#4a7ebb","#be4b48","#98b954","#7d60a0"]},
      "legend":{"orient":"none","legendX":247,"legendY":316,"direction":"horizontal","columns":2,"title":null,"symbolType":"stroke","symbolSize":2809,"symbolStrokeWidth":3,"labelFont":"Lato","labelFontSize":22,"labelColor":"#595959","labelOffset":3,"columnPadding":3,"rowPadding":5,"labelLimit":400,
       "labelExpr":"datum.label == 'p' ? 'hc pretpostavljeni' : datum.label == 'a' ? 'hc 1. iteracija' : datum.label == 'b' ? 'hc 2. iteracija' : 'hc 3. iteracija'"}}}}
  ]},
 {"width":201,"height":436,"data":{"values":[{"k":1,"s":"c1","v":"= 0,99577"},{"k":2,"s":"c2","v":"= 0,98183"},{"k":3,"s":"c3","v":"= 0,95970"}]},
  "encoding":{"y":{"field":"k","type":"quantitative","scale":{"domain":[-3.85,7.05],"reverse":true,"nice":false,"zero":false},"axis":null}},
  "layer":[
   {"mark":{"type":"text","text":"h","align":"left","baseline":"alphabetic","dx":-79.5,"font":"Lato","fontSize":27,"color":"black"}},
   {"mark":{"type":"text","align":"left","baseline":"alphabetic","dx":-66.5,"dy":6,"font":"Lato","fontSize":17,"color":"black"},"encoding":{"text":{"field":"s"}}},
   {"mark":{"type":"text","align":"left","baseline":"alphabetic","dx":-38.5,"font":"Lato","fontSize":27,"color":"black"},"encoding":{"text":{"field":"v"}}}
  ]}
]
}
